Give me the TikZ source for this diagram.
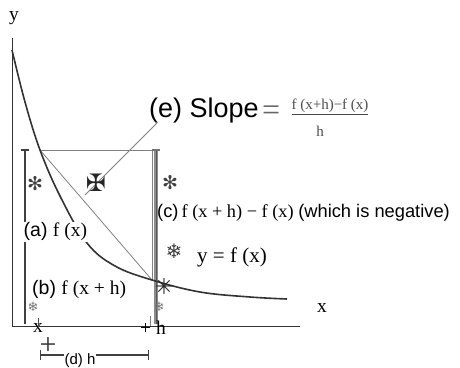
\documentclass[tikz,border=0pt]{standalone}
\usepackage{fontspec}
\setmainfont{Liberation Serif}
\setsansfont{Liberation Sans}
\newfontfamily\dv{DejaVu Sans}
\begin{document}
\begin{tikzpicture}[x=1pt,y=-1pt,
  axis/.style={draw=black!80,line width=0.8pt},
  thin gray/.style={draw=black!50,line width=0.8pt},
  curve/.style={draw=black!80,line width=1.6pt},
  bar/.style={draw=black!75,line width=2.6pt},
  gbar/.style={draw=black!45,line width=3.5pt},
  lbl/.style={inner sep=1pt,font=\fontsize{19.5}{21}\selectfont},
  sym/.style={inner sep=0pt,text=black!75},
]
\useasboundingbox (0,0) rectangle (460,367);
% axes
\coordinate (o) at (12,326);
\coordinate (ytop) at (12,38);
\coordinate (xend) at (300,326);
\draw[axis] (ytop) -- (o) -- (xend);
\node[lbl] (ylab) at (14,18) {y};
\node[lbl] (xlab) at (322,308) {x};
% rectangle and secant
\coordinate (p) at (40,150);
\coordinate (q) at (152,280);
\coordinate (r) at (152,150);
\draw[thin gray] (p) -- (r) -- (q);
\draw[thin gray] (p) -- (q);
% vertical bars
\coordinate (lb1) at (25,150);
\coordinate (lb2) at (25,324);
\draw[bar] (lb1) -- (lb2);
\draw[black!75,line width=1.2pt] (21,150) -- (29,150);
\coordinate (rb1) at (156,150);
\coordinate (rb2) at (156,324);
\draw[gbar] (rb1) -- (rb2);
\draw[black!65,line width=1pt] (rb1) -- (rb2);
\draw[black!55,line width=1.2pt] (152,150) -- (160,150);
% curve
\draw[curve] plot[smooth,tension=0.6] coordinates
  {(12,50) (25,102) (40,150) (60,196) (87,243) (115,266) (152,280) (200,292) (250,297) (287,299)};
% pointer
\coordinate (ptr) at (85,195);
\node[inner sep=0pt,font=\sffamily\fontsize{27}{29}\selectfont,anchor=west] (slope) at (149,111) {(e) Slope};
\draw[thin gray] (157,123) -- (ptr);
\node[inner sep=0pt,anchor=west,font=\fontsize{32}{32}\selectfont,text=black!60] (eq) at (262,113) {=};
\node[inner sep=0pt,font=\fontsize{15}{16}\selectfont,text=black!70] (num) at (330,107) {\underline{f (x+h)−f (x)}};
\node[inner sep=0pt,font=\fontsize{15}{16}\selectfont,text=black!70] (den) at (320,131) {h};
% labels
\node[lbl,anchor=west,font=\fontsize{18.3}{20}\selectfont] (c) at (156,213) {\sffamily(c)\rmfamily\,f (x + h) − f (x) \sffamily(which is negative)};
\node[lbl,anchor=west,fill=white,inner sep=0.5pt] (a) at (23,232) {\sffamily(a) \rmfamily f (x)};
\node[lbl,anchor=west] (b) at (31,290) {\sffamily(b) \rmfamily f (x + h)};
\node[lbl,anchor=west,font=\fontsize{21}{23}\selectfont] (yfx) at (196,257) {y = f (x)};
\node[lbl] (xt) at (38,328) {x};
\node[lbl,anchor=west] (xh) at (139,328) {+ h};
\draw[black!70,line width=0.6pt] (38,318) -- (38,328);
\draw[black!50,line width=0.6pt] (150,316) -- (150,326);
% h interval
\coordinate (h1) at (40,355);
\coordinate (h2) at (148,355);
\draw[black!75,line width=2pt] (h1) -- (h2);
\draw[black!75,line width=1pt] (40,350) -- (40,360) (148,350) -- (148,360);
\node[inner sep=0.5pt,font=\sffamily\fontsize{15}{16}\selectfont,fill=white] (d) at (80,361) {(d) h};
\node[inner sep=0pt,font=\fontsize{30}{30}\selectfont,text=black!80] (cross) at (48,346) {+};
% symbols
\node[sym,font=\dv\fontsize{19}{19}\selectfont] (s1) at (35,184) {✻};
\node[sym,font=\dv\fontsize{19}{19}\selectfont] (s2) at (170,183) {✻};
\node[sym,font=\dv\fontsize{24}{24}\selectfont,text=black!85] (mx) at (96,183) {✠};
\node[sym,font=\dv\fontsize{20}{20}\selectfont] (sn1) at (174,251) {❄};
\node[sym,font=\dv\fontsize{13}{13}\selectfont,text=black!55] (sn2) at (33,307) {❄};
\node[sym,font=\dv\fontsize{13}{13}\selectfont,text=black!55] (sn3) at (159,307) {❄};
\node[sym,font=\dv\fontsize{22}{22}\selectfont,text=black!85] (st) at (164,286) {✳};
\end{tikzpicture}
\end{document}
